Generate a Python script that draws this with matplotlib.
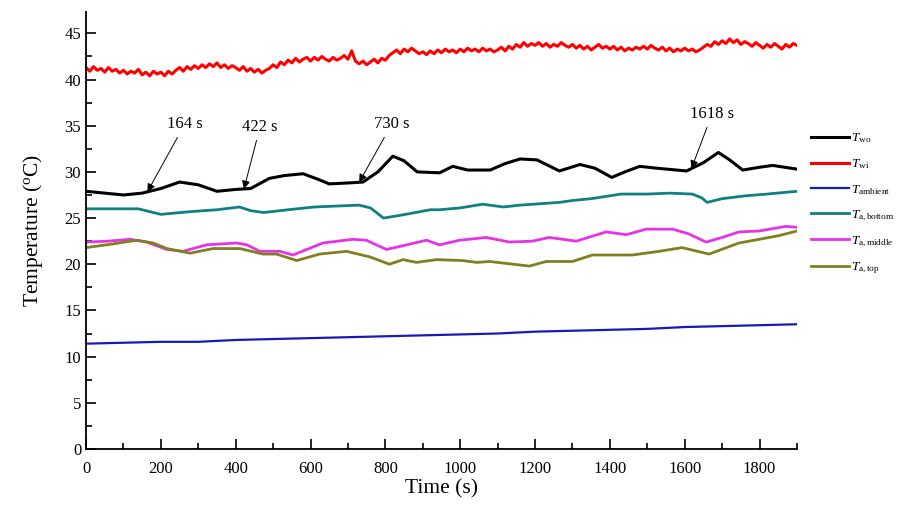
import numpy as np
from matplotlib import pyplot as plt

plt.rcParams['font.family'] = ['Liberation Serif', 'DejaVu Serif']
plt.rcParams['mathtext.fontset'] = 'custom'
plt.rcParams['mathtext.rm'] = 'Liberation Serif'
plt.rcParams['mathtext.it'] = 'Liberation Serif:italic'

# water inlet temperature, logged every 10 s
t_wi = np.arange(0, 1901, 10)
T_wi = [41.3, 40.9, 41.4, 41.0, 41.2, 40.8, 41.3, 40.9, 41.1, 40.7,
        41.0, 40.6, 40.9, 40.7, 41.1, 40.5, 40.8, 40.4, 40.9, 40.6,
        40.8, 40.4, 40.9, 40.6, 41.0, 41.3, 40.9, 41.4, 41.1, 41.5,
        41.2, 41.6, 41.3, 41.7, 41.4, 41.8, 41.3, 41.6, 41.2, 41.5,
        41.3, 41.0, 41.4, 40.9, 41.2, 40.8, 41.1, 40.7, 41.0, 41.2,
        41.6, 41.3, 41.9, 41.6, 42.1, 41.8, 42.3, 41.9, 42.2, 42.4,
        42.0, 42.4, 42.1, 42.5, 42.2, 42.0, 42.4, 42.1, 42.3, 42.6,
        42.2, 43.1, 42.0, 41.7, 42.0, 41.6, 41.9, 42.2, 41.8, 42.3,
        42.1, 42.6, 42.9, 43.2, 42.8, 43.3, 43.0, 43.4, 43.1, 42.8,
        43.0, 42.7, 43.1, 42.8, 43.2, 42.9, 43.3, 43.0, 43.2, 42.9,
        43.3, 43.0, 43.4, 43.1, 43.3, 43.0, 43.4, 43.1, 43.3, 43.0,
        43.2, 43.5, 43.1, 43.6, 43.3, 43.8, 43.5, 44.0, 43.6, 43.9,
        43.7, 44.0, 43.6, 43.9, 43.5, 43.8, 43.6, 44.0, 43.7, 43.5,
        43.8, 43.4, 43.7, 43.3, 43.6, 43.2, 43.5, 43.8, 43.4, 43.6,
        43.3, 43.6, 43.2, 43.5, 43.1, 43.4, 43.2, 43.5, 43.3, 43.6,
        43.3, 43.7, 43.4, 43.2, 43.5, 43.1, 43.4, 43.0, 43.3, 43.1,
        43.4, 43.1, 43.3, 43.0, 43.2, 43.5, 43.8, 43.6, 44.1, 43.8,
        44.2, 43.9, 44.4, 44.0, 44.3, 43.8, 44.1, 43.9, 43.6, 44.0,
        43.7, 43.4, 43.8, 43.5, 43.9, 43.6, 43.3, 43.8, 43.5, 43.9,
        43.7]

# water outlet temperature
t_wo = [0, 50, 100, 150, 200, 250, 300, 350, 400, 440, 490, 530, 580, 620,
        650, 700, 740, 780, 820, 850, 885, 945, 980, 1020, 1080, 1120, 1160,
        1205, 1240, 1265, 1320, 1360, 1405, 1440, 1480, 1525, 1605, 1650,
        1690, 1720, 1755, 1800, 1835, 1900]
T_wo = [27.9, 27.7, 27.5, 27.7, 28.2, 28.9, 28.6, 27.9, 28.1, 28.2, 29.3,
        29.6, 29.8, 29.2, 28.7, 28.8, 28.9, 30.0, 31.7, 31.2, 30.0, 29.9,
        30.6, 30.2, 30.2, 30.9, 31.4, 31.3, 30.6, 30.1, 30.8, 30.4, 29.4,
        30.0, 30.6, 30.4, 30.1, 31.0, 32.1, 31.3, 30.2, 30.5, 30.7, 30.3]

t_amb = np.arange(0, 1901, 100)
T_amb = [11.4, 11.5, 11.6, 11.6, 11.8, 11.9, 12.0, 12.1, 12.2, 12.3,
         12.4, 12.5, 12.7, 12.8, 12.9, 13.0, 13.2, 13.3, 13.4, 13.5]

t_bot = [0, 140, 170, 200, 280, 350, 410, 440, 475, 540, 610, 730, 760, 795,
         840, 920, 945, 1000, 1060, 1115, 1160, 1265, 1300, 1350, 1430, 1500,
         1560, 1620, 1645, 1660, 1700, 1760, 1820, 1900]
T_bot = [26.0, 26.0, 25.7, 25.4, 25.7, 25.9, 26.2, 25.8, 25.6, 25.9, 26.2,
         26.4, 26.1, 25.0, 25.3, 25.9, 25.9, 26.1, 26.5, 26.2, 26.4, 26.7,
         26.9, 27.1, 27.6, 27.6, 27.7, 27.6, 27.2, 26.7, 27.1, 27.4, 27.6, 27.9]

t_mid = [0, 60, 117, 162, 216, 259, 322, 402, 430, 464, 518, 553, 633, 713,
         749, 803, 857, 910, 945, 998, 1070, 1132, 1193, 1238, 1310, 1390,
         1444, 1497, 1567, 1610, 1657, 1700, 1745, 1799, 1870, 1900]
T_mid = [22.4, 22.5, 22.7, 22.4, 21.6, 21.4, 22.1, 22.3, 22.1, 21.4, 21.4,
         21.0, 22.3, 22.7, 22.6, 21.6, 22.1, 22.6, 22.1, 22.6, 22.9, 22.4,
         22.5, 22.9, 22.5, 23.5, 23.2, 23.8, 23.8, 23.3, 22.4, 22.9, 23.5,
         23.6, 24.1, 24.0]

t_top = [0, 72, 135, 179, 216, 278, 340, 411, 473, 509, 563, 624, 696, 758,
         811, 847, 883, 937, 1006, 1044, 1078, 1185, 1230, 1300, 1353, 1460,
         1532, 1593, 1665, 1745, 1799, 1852, 1900]
T_top = [21.8, 22.2, 22.6, 22.3, 21.7, 21.2, 21.7, 21.7, 21.1, 21.1, 20.4,
         21.1, 21.4, 20.8, 20.0, 20.5, 20.2, 20.5, 20.4, 20.2, 20.3, 19.8,
         20.3, 20.3, 21.0, 21.0, 21.4, 21.8, 21.1, 22.3, 22.7, 23.1, 23.6]

# marked instants on the outlet curve
mark_times = [164, 422, 730, 1618]
mark_text_pos = [(264, 34.3), (465, 34.0), (817, 34.3), (1673, 35.4)]

fig = plt.figure(figsize=(8.98, 5.05), dpi=100)
ax = fig.add_axes([0.0958, 0.111, 0.7917, 0.865])

ax.plot(t_wo, T_wo, color='black', lw=2.2, label=r'$T_{\rm wo}$')
ax.plot(t_wi, T_wi, color='#ff0000', lw=2.2, label=r'$T_{\rm wi}$')
ax.plot(t_amb, T_amb, color='#1a1ab8', lw=1.6, label=r'$T_{\rm ambient}$')
ax.plot(t_bot, T_bot, color='#108080', lw=2.0, label=r'$T_{\rm a,bottom}$')
ax.plot(t_mid, T_mid, color='#e633e6', lw=2.0, label=r'$T_{\rm a,middle}$')
ax.plot(t_top, T_top, color='#808020', lw=2.0, label=r'$T_{\rm a,top}$')

for tm, (tx, ty) in zip(mark_times, mark_text_pos):
    ax.annotate(f'{tm} s', xy=(tm, np.interp(tm, t_wo, T_wo)), xytext=(tx, ty),
                ha='center', va='bottom', fontsize=12,
                arrowprops=dict(arrowstyle='-|>', color='black', lw=0.7,
                                mutation_scale=12, shrinkA=2, shrinkB=0))

ax.set_xlim(0, 1900)
ax.set_ylim(0, 47.3)
ax.set_xticks(np.arange(0, 1801, 200))
ax.set_xticks(np.arange(100, 1901, 200), minor=True)
ax.set_yticks(np.arange(0, 46, 5))
ax.set_yticks(np.arange(2.5, 47, 5), minor=True)
ax.tick_params(which='both', direction='in', labelsize=12, width=1.2)
ax.tick_params(which='major', length=7)
ax.tick_params(which='minor', length=4)
ax.tick_params(axis='x', pad=9)

ax.spines['top'].set_visible(False)
ax.spines['right'].set_visible(False)
ax.spines['left'].set_linewidth(1.3)
ax.spines['bottom'].set_linewidth(1.3)

ax.set_xlabel('Time (s)', fontsize=15.5, labelpad=1)
ax.set_ylabel(r'Temperature ($^{\rm o}$C)', fontsize=15.5, labelpad=14)

fig.legend(loc='upper left', bbox_to_anchor=(0.897, 0.75), frameon=False,
           fontsize=9.5, handlelength=2.9, handletextpad=0.15, labelspacing=0.9,
           borderaxespad=0)

fig.savefig('out.png', dpi=100)
